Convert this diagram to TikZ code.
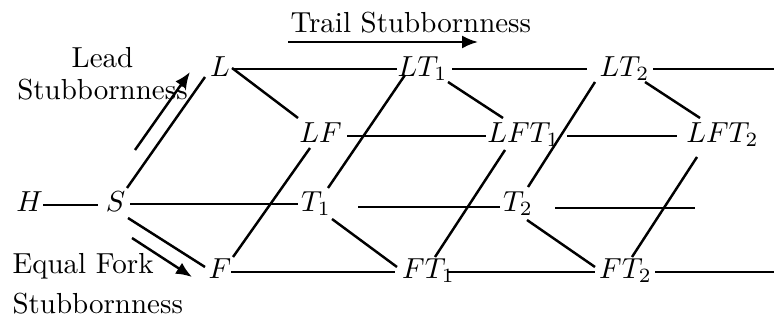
\documentclass[tikz,border=0pt]{standalone}
\usetikzlibrary{arrows.meta}
\begin{document}
\begin{tikzpicture}[x=0.345pt,y=-0.345pt,
  st/.style={inner sep=1pt, text height=6.9pt, text depth=2.6pt},
  ln/.style={line width=0.85pt},
  arr/.style={line width=0.85pt,-{Latex[length=5.5pt,width=4.5pt]}},
  lbl/.style={inner sep=0pt}]
\useasboundingbox (0,0) rectangle (774,321);
% state nodes
\node[st] (H)    at (29.5,205) {$H$};
\node[st] (S)    at (115.5,205) {$S$};
\node[st] (L)    at (220,70) {$L$};
\node[st] (LT1)  at (422.5,70) {$LT_1$};
\node[st] (LT2)  at (624.5,70) {$LT_2$};
\node[st] (LF)   at (320.5,136) {$LF$};
\node[st] (LFT1) at (523.5,136) {$LFT_1$};
\node[st] (LFT2) at (722.5,136) {$LFT_2$};
\node[st] (T1)   at (316,205) {$T_1$};
\node[st] (T2)   at (518,205) {$T_2$};
\node[st] (F)    at (220,272) {$F$};
\node[st] (FT1)  at (428.5,272) {$FT_1$};
\node[st] (FT2)  at (625.5,272) {$FT_2$};
\coordinate (E1) at (774,69);
\coordinate (E2) at (695,208);
\coordinate (E3) at (774,272);
% labels
\node[lbl,anchor=base] (lead1) at (102.5,68) {Lead};
\node[lbl,anchor=base] (lead2) at (102.5,100) {Stubbornness};
\node[lbl,anchor=base west] (fork1) at (12,273) {Equal Fork};
\node[lbl,anchor=base west] (fork2) at (12,313) {Stubbornness};
\node[lbl,anchor=base west] (trail) at (290,33) {Trail Stubbornness};
\coordinate (ta) at (288,42);
\coordinate (tb) at (478,42);
\coordinate (la) at (135,150);
\coordinate (lb) at (190,72);
\coordinate (fa) at (132,238);
\coordinate (fb) at (192,277);
\draw[arr] (ta) -- (tb);
\draw[arr] (la) -- (lb);
\draw[arr] (fa) -- (fb);
% horizontal connectors
\draw[ln] ([shift={(12,-1)}]L.center) -- ([shift={(-25.5,-1)}]LT1.center);
\draw[ln] ([shift={(29.5,-1)}]LT1.center) -- ([shift={(-37.5,-1)}]LT2.center);
\draw[ln] ([shift={(28.5,-1)}]LT2.center) -- (E1);
\draw[ln] ([shift={(26.5,0)}]LF.center) -- ([shift={(-37.5,0)}]LFT1.center);
\draw[ln] ([shift={(43.5,0)}]LFT1.center) -- ([shift={(-45.5,0)}]LFT2.center);
\draw[ln] ([shift={(13.5,0)}]H.center) -- ([shift={(-17.5,0)}]S.center);
\draw[ln] ([shift={(14.5,-1)}]S.center) -- ([shift={(-18,-1)}]T1.center);
\draw[ln] ([shift={(42,2)}]T1.center) -- ([shift={(-18,2)}]T2.center);
\draw[ln] ([shift={(37,3)}]T2.center) -- (E2);
\draw[ln] ([shift={(11,0)}]F.center) -- ([shift={(-33.5,0)}]FT1.center);
\draw[ln] ([shift={(19.5,0)}]FT1.center) -- ([shift={(-30.5,0)}]FT2.center);
\draw[ln] ([shift={(29.5,0)}]FT2.center) -- (E3);
% lead diagonals
\draw[ln] ([shift={(11.5,-17)}]S.center) -- ([shift={(-15,7)}]L.center);
\draw[ln] ([shift={(13,-15)}]F.center) -- ([shift={(-10.5,12)}]LF.center);
\draw[ln] ([shift={(12,-17)}]T1.center) -- ([shift={(-17.5,5)}]LT1.center);
\draw[ln] ([shift={(6.5,-15)}]FT1.center) -- ([shift={(-18.5,14)}]LFT1.center);
\draw[ln] ([shift={(10,-18)}]T2.center) -- ([shift={(-29.5,12)}]LT2.center);
\draw[ln] ([shift={(6.5,-15)}]FT2.center) -- ([shift={(-25.5,21)}]LFT2.center);
% fork diagonals
\draw[ln] ([shift={(12.5,13)}]S.center) -- ([shift={(-15,-5)}]F.center);
\draw[ln] ([shift={(12,-2)}]L.center) -- ([shift={(-22.5,-18)}]LF.center);
\draw[ln] ([shift={(25.5,12)}]LT1.center) -- ([shift={(-20.5,-18)}]LFT1.center);
\draw[ln] ([shift={(20.5,12)}]LT2.center) -- ([shift={(-22.5,-18)}]LFT2.center);
\draw[ln] ([shift={(16,14)}]T1.center) -- ([shift={(-31.5,-5)}]FT1.center);
\draw[ln] ([shift={(9,15)}]T2.center) -- ([shift={(-30.5,-5)}]FT2.center);
\end{tikzpicture}
\end{document}
